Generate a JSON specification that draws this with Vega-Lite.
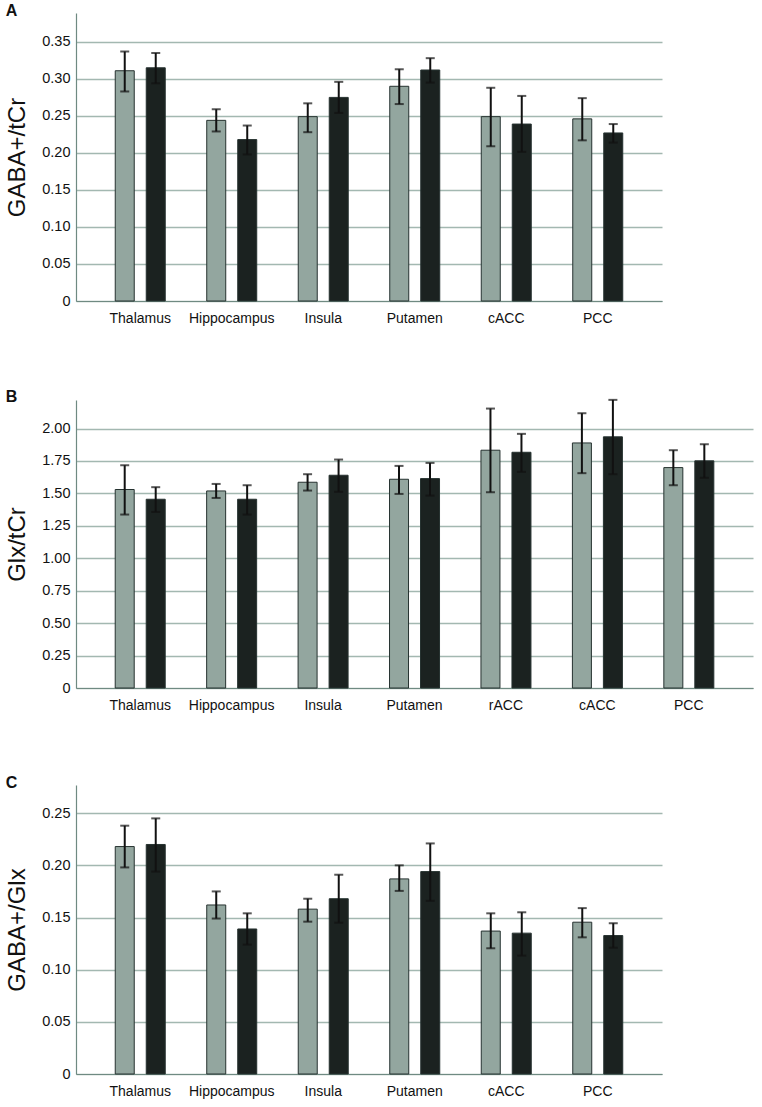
{
  "$schema": "https://vega.github.io/schema/vega-lite/v6.json",
  "background": "white",
  "padding": {"left": 5, "top": 3, "right": 5, "bottom": 5},
  "spacing": 63,
  "config": {
    "view": {"stroke": null},
    "font": "Liberation Sans",
    "axis": {
      "labelFont": "Liberation Sans",
      "titleFont": "Liberation Sans",
      "labelColor": "#111111",
      "titleColor": "#111111",
      "domainColor": "#6f8a82",
      "domainWidth": 1.2,
      "ticks": false,
      "gridColor": "#a3b8b1",
      "gridWidth": 1.5,
      "labelOverlap": false
    },
    "title": {"font": "Liberation Sans", "fontWeight": "bold", "fontSize": 16, "color": "#111111", "anchor": "start", "frame": "bounds", "offset": -6}
  },
  "datasets": {
    "a": [
      {"region": "Thalamus", "group": "Group 1", "mean": 0.311, "lo": 0.283, "hi": 0.337},
      {"region": "Thalamus", "group": "Group 2", "mean": 0.315, "lo": 0.294, "hi": 0.335},
      {"region": "Hippocampus", "group": "Group 1", "mean": 0.244, "lo": 0.229, "hi": 0.259},
      {"region": "Hippocampus", "group": "Group 2", "mean": 0.218, "lo": 0.198, "hi": 0.237},
      {"region": "Insula", "group": "Group 1", "mean": 0.249, "lo": 0.228, "hi": 0.267},
      {"region": "Insula", "group": "Group 2", "mean": 0.275, "lo": 0.254, "hi": 0.296},
      {"region": "Putamen", "group": "Group 1", "mean": 0.290, "lo": 0.266, "hi": 0.313},
      {"region": "Putamen", "group": "Group 2", "mean": 0.312, "lo": 0.295, "hi": 0.328},
      {"region": "cACC", "group": "Group 1", "mean": 0.249, "lo": 0.209, "hi": 0.288},
      {"region": "cACC", "group": "Group 2", "mean": 0.239, "lo": 0.2015, "hi": 0.277},
      {"region": "PCC", "group": "Group 1", "mean": 0.246, "lo": 0.217, "hi": 0.274},
      {"region": "PCC", "group": "Group 2", "mean": 0.227, "lo": 0.214, "hi": 0.239}
    ],
    "b": [
      {"region": "Thalamus", "group": "Group 1", "mean": 1.530, "lo": 1.337, "hi": 1.717},
      {"region": "Thalamus", "group": "Group 2", "mean": 1.455, "lo": 1.357, "hi": 1.548},
      {"region": "Hippocampus", "group": "Group 1", "mean": 1.519, "lo": 1.465, "hi": 1.573},
      {"region": "Hippocampus", "group": "Group 2", "mean": 1.455, "lo": 1.337, "hi": 1.563},
      {"region": "Insula", "group": "Group 1", "mean": 1.586, "lo": 1.522, "hi": 1.648},
      {"region": "Insula", "group": "Group 2", "mean": 1.640, "lo": 1.512, "hi": 1.761},
      {"region": "Putamen", "group": "Group 1", "mean": 1.609, "lo": 1.496, "hi": 1.712},
      {"region": "Putamen", "group": "Group 2", "mean": 1.614, "lo": 1.483, "hi": 1.735},
      {"region": "rACC", "group": "Group 1", "mean": 1.833, "lo": 1.509, "hi": 2.154},
      {"region": "rACC", "group": "Group 2", "mean": 1.817, "lo": 1.666, "hi": 1.959},
      {"region": "cACC", "group": "Group 1", "mean": 1.889, "lo": 1.656, "hi": 2.118},
      {"region": "cACC", "group": "Group 2", "mean": 1.936, "lo": 1.648, "hi": 2.221},
      {"region": "PCC", "group": "Group 1", "mean": 1.699, "lo": 1.563, "hi": 1.833},
      {"region": "PCC", "group": "Group 2", "mean": 1.751, "lo": 1.620, "hi": 1.879}
    ],
    "c": [
      {"region": "Thalamus", "group": "Group 1", "mean": 0.218, "lo": 0.198, "hi": 0.238},
      {"region": "Thalamus", "group": "Group 2", "mean": 0.220, "lo": 0.194, "hi": 0.245},
      {"region": "Hippocampus", "group": "Group 1", "mean": 0.162, "lo": 0.149, "hi": 0.175},
      {"region": "Hippocampus", "group": "Group 2", "mean": 0.139, "lo": 0.124, "hi": 0.154},
      {"region": "Insula", "group": "Group 1", "mean": 0.158, "lo": 0.146, "hi": 0.168},
      {"region": "Insula", "group": "Group 2", "mean": 0.168, "lo": 0.145, "hi": 0.191},
      {"region": "Putamen", "group": "Group 1", "mean": 0.187, "lo": 0.1755, "hi": 0.200},
      {"region": "Putamen", "group": "Group 2", "mean": 0.194, "lo": 0.166, "hi": 0.221},
      {"region": "cACC", "group": "Group 1", "mean": 0.137, "lo": 0.1205, "hi": 0.154},
      {"region": "cACC", "group": "Group 2", "mean": 0.135, "lo": 0.1135, "hi": 0.155},
      {"region": "PCC", "group": "Group 1", "mean": 0.1455, "lo": 0.131, "hi": 0.159},
      {"region": "PCC", "group": "Group 2", "mean": 0.1327, "lo": 0.121, "hi": 0.1445}
    ]
  },
  "vconcat": [
    {
      "title": {"text": "A"},
      "width": 586,
      "height": 288,
      "data": {"name": "a"},
      "encoding": {
        "x": {"field": "region", "type": "nominal", "sort": ["Thalamus", "Hippocampus", "Insula", "Putamen", "cACC", "PCC"],
          "scale": {"paddingInner": 0.4536, "paddingOuter": 0.4288},
          "axis": {"title": null, "labelAngle": 0, "labelFontSize": 14, "labelPadding": 10, "grid": false}},
        "xOffset": {"field": "group", "type": "nominal", "sort": ["Group 1", "Group 2"], "scale": {"paddingInner": 0.387, "paddingOuter": 0}}
      },
      "layer": [
        {"mark": {"type": "bar", "stroke": "#263230", "strokeWidth": 1},
          "encoding": {
            "y": {"field": "mean", "type": "quantitative", "scale": {"domain": [0, 0.389], "nice": false},
              "axis": {"title": "GABA+/tCr", "titleFontSize": 24, "titleFontWeight": "normal", "titlePadding": 12, "labelFontSize": 14.5, "labelPadding": 6,
                "values": [0, 0.05, 0.1, 0.15, 0.2, 0.25, 0.3, 0.35], "labelExpr": "datum.value == 0 ? '0' : format(datum.value, '.2f')"}},
            "color": {"field": "group", "type": "nominal", "scale": {"domain": ["Group 1", "Group 2"], "range": ["#93a69f", "#1b2220"]}, "legend": null}
          }},
        {"mark": {"type": "rule", "strokeWidth": 2, "color": "#111111"},
          "encoding": {"y": {"field": "lo", "type": "quantitative",
              "axis": {"title": "GABA+/tCr", "titleFontSize": 24, "titleFontWeight": "normal", "titlePadding": 12, "labelFontSize": 14.5, "labelPadding": 6,
                "values": [0, 0.05, 0.1, 0.15, 0.2, 0.25, 0.3, 0.35], "labelExpr": "datum.value == 0 ? '0' : format(datum.value, '.2f')"}}, "y2": {"field": "hi"}}},
        {"mark": {"type": "tick", "orient": "horizontal", "size": 9, "thickness": 2, "color": "#111111"},
          "encoding": {"y": {"field": "lo", "type": "quantitative",
              "axis": {"title": "GABA+/tCr", "titleFontSize": 24, "titleFontWeight": "normal", "titlePadding": 12, "labelFontSize": 14.5, "labelPadding": 6,
                "values": [0, 0.05, 0.1, 0.15, 0.2, 0.25, 0.3, 0.35], "labelExpr": "datum.value == 0 ? '0' : format(datum.value, '.2f')"}}}},
        {"mark": {"type": "tick", "orient": "horizontal", "size": 9, "thickness": 2, "color": "#111111"},
          "encoding": {"y": {"field": "hi", "type": "quantitative",
              "axis": {"title": "GABA+/tCr", "titleFontSize": 24, "titleFontWeight": "normal", "titlePadding": 12, "labelFontSize": 14.5, "labelPadding": 6,
                "values": [0, 0.05, 0.1, 0.15, 0.2, 0.25, 0.3, 0.35], "labelExpr": "datum.value == 0 ? '0' : format(datum.value, '.2f')"}}}}
      ]
    },
    {
      "title": {"text": "B"},
      "width": 677,
      "height": 288,
      "data": {"name": "b"},
      "encoding": {
        "x": {"field": "region", "type": "nominal", "sort": ["Thalamus", "Hippocampus", "Insula", "Putamen", "rACC", "cACC", "PCC"],
          "scale": {"paddingInner": 0.4536, "paddingOuter": 0.4288},
          "axis": {"title": null, "labelAngle": 0, "labelFontSize": 14, "labelPadding": 10, "grid": false}},
        "xOffset": {"field": "group", "type": "nominal", "sort": ["Group 1", "Group 2"], "scale": {"paddingInner": 0.387, "paddingOuter": 0}}
      },
      "layer": [
        {"mark": {"type": "bar", "stroke": "#263230", "strokeWidth": 1},
          "encoding": {
            "y": {"field": "mean", "type": "quantitative", "scale": {"domain": [0, 2.22], "nice": false},
              "axis": {"title": "Glx/tCr", "titleFontSize": 24, "titleFontWeight": "normal", "titlePadding": 12, "labelFontSize": 14.5, "labelPadding": 6,
                "values": [0, 0.25, 0.5, 0.75, 1, 1.25, 1.5, 1.75, 2], "labelExpr": "datum.value == 0 ? '0' : format(datum.value, '.2f')"}},
            "color": {"field": "group", "type": "nominal", "scale": {"domain": ["Group 1", "Group 2"], "range": ["#93a69f", "#1b2220"]}, "legend": null}
          }},
        {"mark": {"type": "rule", "strokeWidth": 2, "color": "#111111", "clip": false},
          "encoding": {"y": {"field": "lo", "type": "quantitative",
              "axis": {"title": "Glx/tCr", "titleFontSize": 24, "titleFontWeight": "normal", "titlePadding": 12, "labelFontSize": 14.5, "labelPadding": 6,
                "values": [0, 0.25, 0.5, 0.75, 1, 1.25, 1.5, 1.75, 2], "labelExpr": "datum.value == 0 ? '0' : format(datum.value, '.2f')"}}, "y2": {"field": "hi"}}},
        {"mark": {"type": "tick", "orient": "horizontal", "size": 9, "thickness": 2, "color": "#111111"},
          "encoding": {"y": {"field": "lo", "type": "quantitative",
              "axis": {"title": "Glx/tCr", "titleFontSize": 24, "titleFontWeight": "normal", "titlePadding": 12, "labelFontSize": 14.5, "labelPadding": 6,
                "values": [0, 0.25, 0.5, 0.75, 1, 1.25, 1.5, 1.75, 2], "labelExpr": "datum.value == 0 ? '0' : format(datum.value, '.2f')"}}}},
        {"mark": {"type": "tick", "orient": "horizontal", "size": 9, "thickness": 2, "color": "#111111"},
          "encoding": {"y": {"field": "hi", "type": "quantitative",
              "axis": {"title": "Glx/tCr", "titleFontSize": 24, "titleFontWeight": "normal", "titlePadding": 12, "labelFontSize": 14.5, "labelPadding": 6,
                "values": [0, 0.25, 0.5, 0.75, 1, 1.25, 1.5, 1.75, 2], "labelExpr": "datum.value == 0 ? '0' : format(datum.value, '.2f')"}}}}
      ]
    },
    {
      "title": {"text": "C"},
      "width": 586,
      "height": 289,
      "data": {"name": "c"},
      "encoding": {
        "x": {"field": "region", "type": "nominal", "sort": ["Thalamus", "Hippocampus", "Insula", "Putamen", "cACC", "PCC"],
          "scale": {"paddingInner": 0.4536, "paddingOuter": 0.4288},
          "axis": {"title": null, "labelAngle": 0, "labelFontSize": 14, "labelPadding": 10, "grid": false}},
        "xOffset": {"field": "group", "type": "nominal", "sort": ["Group 1", "Group 2"], "scale": {"paddingInner": 0.387, "paddingOuter": 0}}
      },
      "layer": [
        {"mark": {"type": "bar", "stroke": "#263230", "strokeWidth": 1},
          "encoding": {
            "y": {"field": "mean", "type": "quantitative", "scale": {"domain": [0, 0.277], "nice": false},
              "axis": {"title": "GABA+/Glx", "titleFontSize": 24, "titleFontWeight": "normal", "titlePadding": 12, "labelFontSize": 14.5, "labelPadding": 6,
                "values": [0, 0.05, 0.1, 0.15, 0.2, 0.25], "labelExpr": "datum.value == 0 ? '0' : format(datum.value, '.2f')"}},
            "color": {"field": "group", "type": "nominal", "scale": {"domain": ["Group 1", "Group 2"], "range": ["#93a69f", "#1b2220"]}, "legend": null}
          }},
        {"mark": {"type": "rule", "strokeWidth": 2, "color": "#111111"},
          "encoding": {"y": {"field": "lo", "type": "quantitative",
              "axis": {"title": "GABA+/Glx", "titleFontSize": 24, "titleFontWeight": "normal", "titlePadding": 12, "labelFontSize": 14.5, "labelPadding": 6,
                "values": [0, 0.05, 0.1, 0.15, 0.2, 0.25], "labelExpr": "datum.value == 0 ? '0' : format(datum.value, '.2f')"}}, "y2": {"field": "hi"}}},
        {"mark": {"type": "tick", "orient": "horizontal", "size": 9, "thickness": 2, "color": "#111111"},
          "encoding": {"y": {"field": "lo", "type": "quantitative",
              "axis": {"title": "GABA+/Glx", "titleFontSize": 24, "titleFontWeight": "normal", "titlePadding": 12, "labelFontSize": 14.5, "labelPadding": 6,
                "values": [0, 0.05, 0.1, 0.15, 0.2, 0.25], "labelExpr": "datum.value == 0 ? '0' : format(datum.value, '.2f')"}}}},
        {"mark": {"type": "tick", "orient": "horizontal", "size": 9, "thickness": 2, "color": "#111111"},
          "encoding": {"y": {"field": "hi", "type": "quantitative",
              "axis": {"title": "GABA+/Glx", "titleFontSize": 24, "titleFontWeight": "normal", "titlePadding": 12, "labelFontSize": 14.5, "labelPadding": 6,
                "values": [0, 0.05, 0.1, 0.15, 0.2, 0.25], "labelExpr": "datum.value == 0 ? '0' : format(datum.value, '.2f')"}}}}
      ]
    }
  ]
}
